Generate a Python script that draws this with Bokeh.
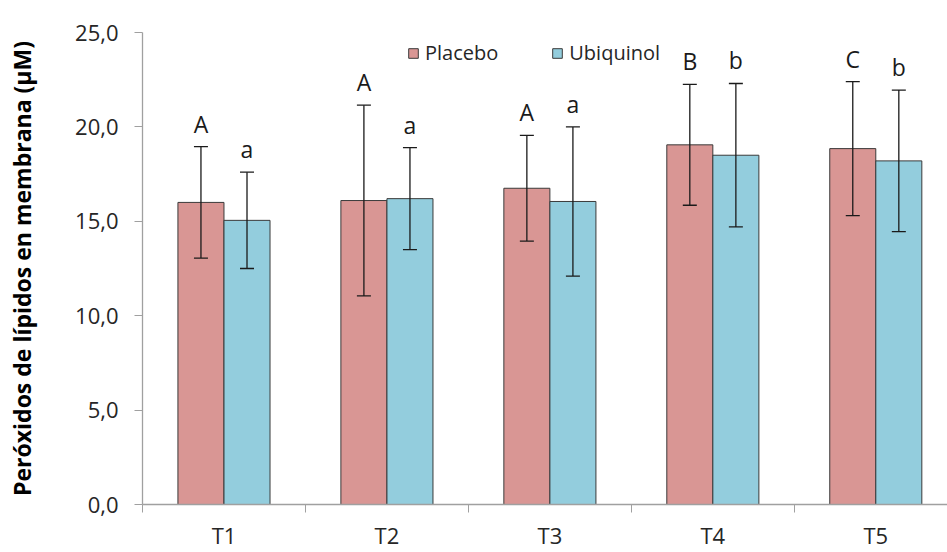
from bokeh.plotting import figure
from bokeh.models import (ColumnDataSource, Range1d, FixedTicker, Whisker, TeeHead,
                          Legend, LegendItem)
from bokeh.core.properties import value
from bokeh.embed import file_html
from bokeh.resources import INLINE

# Lipid peroxides in membrane (µM), mean ± SD per time point
categories = ["T1", "T2", "T3", "T4", "T5"]
placebo = [16.0, 16.1, 16.75, 19.05, 18.85]
placebo_sd = [2.95, 5.05, 2.8, 3.2, 3.55]
ubiquinol = [15.05, 16.2, 16.05, 18.5, 18.2]
ubiquinol_sd = [2.55, 2.7, 3.95, 3.8, 3.75]
placebo_letters = ["A", "A", "A", "B", "C"]
ubiquinol_letters = ["a", "a", "a", "b", "b"]
y_ticks = [0, 5, 10, 15, 20, 25]
y_tick_labels = ["0,0", "5,0", "10,0", "15,0", "20,0", "25,0"]
y_title = "Peróxidos de lípidos en membrana (µM)"

FONT = "Open Sans"
PINK = "#d99694"
BLUE = "#93cddd"
AXIS_GRAY = "#a0a0a0"

centers = [i + 0.5 for i in range(len(categories))]
shift = 0.1413
bar_w = 0.2825

p_src = ColumnDataSource(dict(
    x=[c - shift for c in centers], top=placebo,
    upper=[m + s for m, s in zip(placebo, placebo_sd)],
    lower=[m - s for m, s in zip(placebo, placebo_sd)],
    letter=placebo_letters))
u_src = ColumnDataSource(dict(
    x=[c + shift for c in centers], top=ubiquinol,
    upper=[m + s for m, s in zip(ubiquinol, ubiquinol_sd)],
    lower=[m - s for m, s in zip(ubiquinol, ubiquinol_sd)],
    letter=ubiquinol_letters))

p = figure(width=947, height=552, output_backend="svg", toolbar_location=None,
           x_range=Range1d(0, 4.94), y_range=Range1d(0, 25),
           min_border_left=142, min_border_right=0, min_border_top=32,
           min_border_bottom=46)
p.outline_line_color = None
p.xgrid.visible = False
p.ygrid.visible = False
p.background_fill_color = "white"
p.border_fill_color = "white"

rp = p.vbar(x="x", top="top", width=bar_w, source=p_src, fill_color=PINK,
            line_color="#3a3a3a", line_width=1)
ru = p.vbar(x="x", top="top", width=bar_w, source=u_src, fill_color=BLUE,
            line_color="#3a3a3a", line_width=1)

for src in (p_src, u_src):
    w = Whisker(base="x", upper="upper", lower="lower", source=src,
                line_color="#1a1a1a", line_width=1.3, level="annotation",
                upper_head=TeeHead(size=14, line_color="#1a1a1a", line_width=1.3),
                lower_head=TeeHead(size=14, line_color="#1a1a1a", line_width=1.3))
    p.add_layout(w)
    # significance letters sit a little above each upper cap
    p.text(x="x", y="upper", text="letter", source=src, text_align="center",
           text_baseline="bottom", y_offset=-7,
           text_font=value(FONT), text_font_size="23px", text_color="#1a1a1a")

# x axis: ticks on category boundaries, labels at category centers
xa = p.xaxis[0]
xa.ticker = FixedTicker(ticks=centers, minor_ticks=list(range(len(categories) + 1)))
xa.major_label_overrides = {c: lab for c, lab in zip(centers, categories)}
xa.major_tick_line_color = None
xa.minor_tick_line_color = AXIS_GRAY
xa.minor_tick_out = 8
xa.minor_tick_in = 0
xa.axis_line_color = AXIS_GRAY
xa.axis_line_width = 1.3
xa.major_label_text_font = FONT
xa.major_label_text_font_size = "22px"
xa.major_label_text_color = "#262626"
xa.major_label_standoff = 7

ya = p.yaxis[0]
ya.ticker = FixedTicker(ticks=y_ticks, minor_ticks=[])
ya.major_label_overrides = {float(t): lab for t, lab in zip(y_ticks, y_tick_labels)}
ya.major_tick_out = 8
ya.major_tick_in = 0
ya.major_tick_line_color = AXIS_GRAY
ya.minor_tick_line_color = None
ya.axis_line_color = AXIS_GRAY
ya.axis_line_width = 1.3
ya.major_label_text_font = FONT
ya.major_label_text_font_size = "22px"
ya.major_label_text_color = "#262626"
ya.major_label_standoff = 16
ya.axis_label = y_title
ya.axis_label_text_font = FONT
ya.axis_label_text_font_size = "23px"
ya.axis_label_text_font_style = "bold"
ya.axis_label_text_color = "black"
ya.axis_label_standoff = 34

legend = Legend(items=[LegendItem(label="Placebo", renderers=[rp]),
                       LegendItem(label="Ubiquinol", renderers=[ru])],
                orientation="horizontal", location=(265, 438),
                glyph_width=12, glyph_height=12, label_standoff=6, spacing=53,
                padding=4, margin=0, border_line_color=None,
                background_fill_alpha=0,
                label_text_font=FONT, label_text_font_size="20px",
                label_text_color="#262626")
p.add_layout(legend, "center")

open("out.html", "w").write(file_html(p, INLINE))
